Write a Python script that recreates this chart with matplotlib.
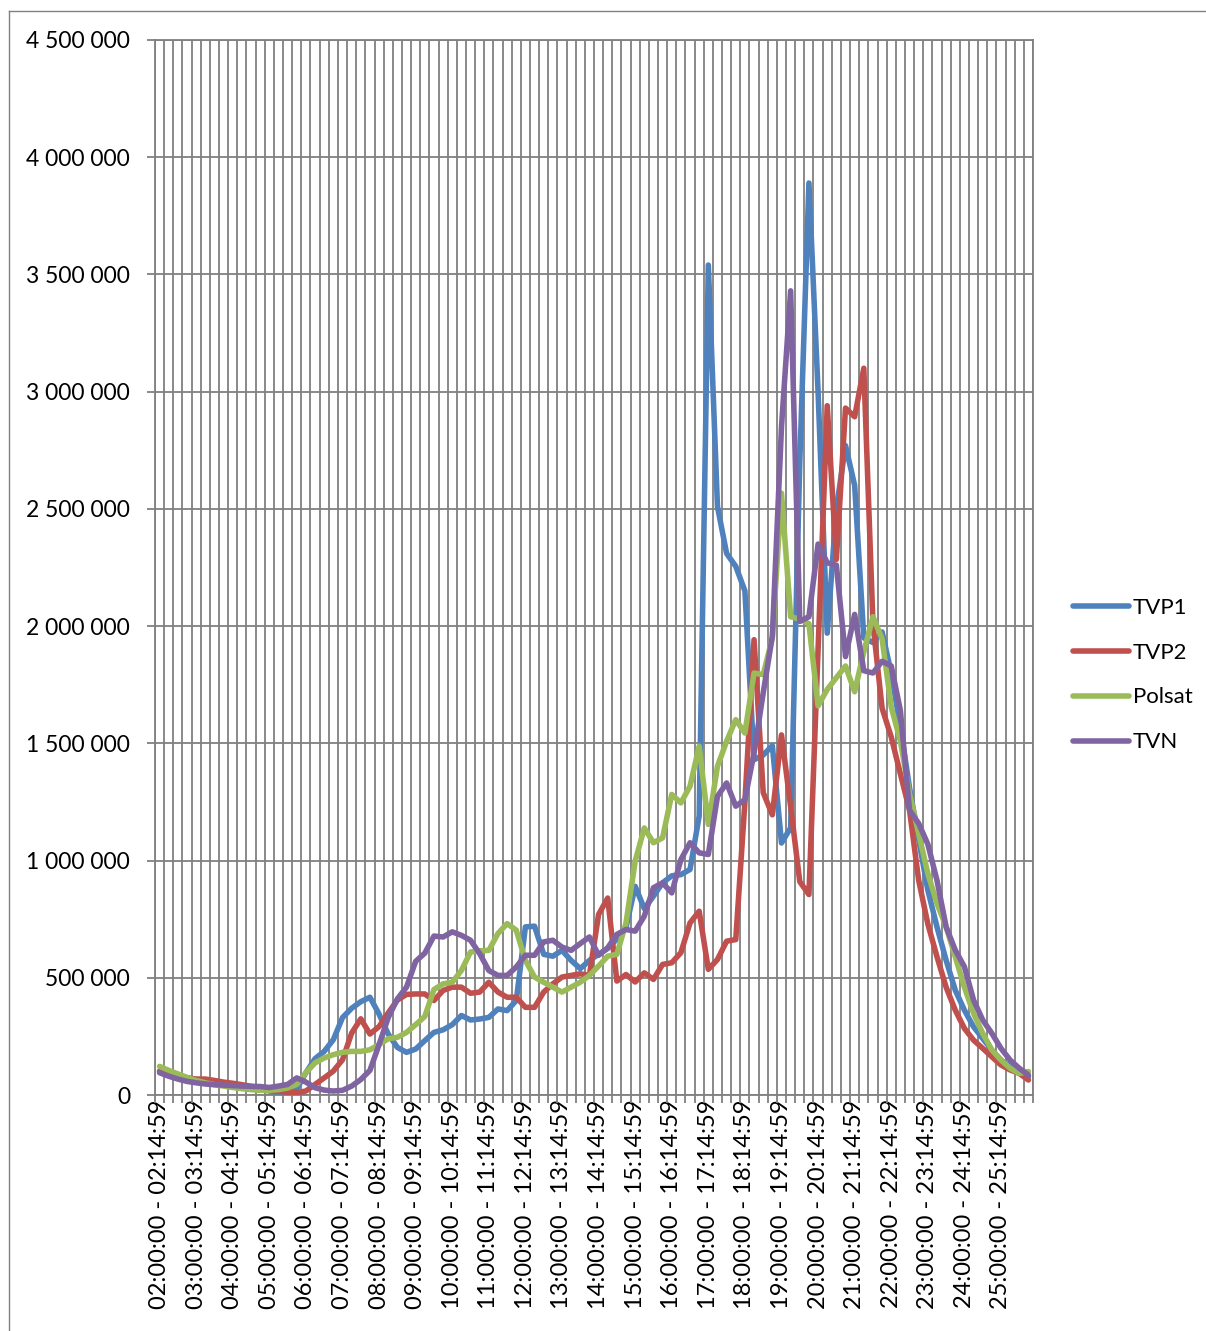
import matplotlib
matplotlib.use("Agg")
import matplotlib.pyplot as plt
from matplotlib.lines import Line2D
import matplotlib.transforms as mtransforms
import numpy as np

plt.rcParams['font.family'] = ['Lato', 'DejaVu Sans']

# 96 quarter-hour slots, 02:00 .. 25:45 (values in thousands of viewers)
tick_labels = [
    "02:00:00 - 02:14:59", "03:00:00 - 03:14:59", "04:00:00 - 04:14:59",
    "05:00:00 - 05:14:59", "06:00:00 - 06:14:59", "07:00:00 - 07:14:59",
    "08:00:00 - 08:14:59", "09:00:00 - 09:14:59", "10:00:00 - 10:14:59",
    "11:00:00 - 11:14:59", "12:00:00 - 12:14:59", "13:00:00 - 13:14:59",
    "14:00:00 - 14:14:59", "15:00:00 - 15:14:59", "16:00:00 - 16:14:59",
    "17:00:00 - 17:14:59", "18:00:00 - 18:14:59", "19:00:00 - 19:14:59",
    "20:00:00 - 20:14:59", "21:00:00 - 21:14:59", "22:00:00 - 22:14:59",
    "23:00:00 - 23:14:59", "24:00:00 - 24:14:59", "25:00:00 - 25:14:59",
]

tvp1 = [102, 90, 80, 73, 66, 59, 52, 48, 44, 38, 31, 24, 17, 13, 13, 25,
        95, 155, 186, 236, 330, 370, 398, 417, 345, 260, 203, 182, 196, 232, 267, 278,
        300, 339, 320, 324, 331, 367, 360, 403, 717, 720, 600, 592, 617, 574, 539, 574,
        600, 625, 665, 715, 890, 795, 848, 905, 935, 940, 962, 1190, 3540, 2510, 2310, 2255,
        2150, 1430, 1450, 1490, 1075, 1140, 2700, 3890, 3000, 1970, 2500, 2770, 2600, 1950, 1930, 1975,
        1800, 1570, 1310, 1090, 874, 717, 575, 447, 362, 291, 241, 192, 149, 121, 99, 78]

tvp2 = [100, 90, 80, 72, 68, 68, 62, 55, 50, 44, 37, 30, 22, 16, 12, 10,
        17, 45, 73, 102, 150, 264, 325, 260, 292, 350, 405, 429, 431, 431, 403, 446,
        460, 460, 434, 439, 481, 439, 417, 417, 374, 374, 439, 474, 503, 510, 517, 510,
        770, 840, 486, 514, 482, 521, 493, 557, 564, 607, 734, 784, 536, 578, 656, 663,
        1250, 1942, 1290, 1195, 1536, 1230, 910, 855, 1900, 2940, 2285, 2930, 2893, 3100, 2010, 1650,
        1527, 1370, 1215, 916, 730, 590, 460, 362, 284, 234, 199, 163, 128, 107, 92, 64]

polsat = [122, 105, 90, 75, 62, 52, 44, 38, 32, 27, 23, 20, 20, 23, 30, 45,
          95, 137, 158, 172, 182, 186, 186, 193, 215, 240, 246, 267, 300, 335, 450, 474,
          481, 531, 610, 615, 617, 689, 731, 703, 574, 503, 481, 460, 439, 460, 481, 510,
          550, 592, 600, 734, 997, 1139, 1076, 1097, 1282, 1246, 1317, 1488, 1154, 1402, 1509, 1601,
          1544, 1800, 1793, 1950, 2567, 2040, 2030, 2010, 1660, 1730, 1780, 1830, 1720, 1890, 2040, 1946,
          1655, 1510, 1285, 1115, 945, 817, 717, 590, 460, 348, 263, 192, 149, 114, 92, 100]

tvn = [95, 80, 68, 58, 52, 47, 44, 42, 40, 38, 37, 36, 32, 38, 45, 73,
       55, 31, 21, 17, 20, 38, 66, 105, 215, 330, 410, 460, 570, 605, 678, 674,
       696, 681, 660, 603, 531, 510, 510, 546, 596, 596, 653, 660, 631, 617, 646, 674,
       596, 628, 685, 706, 699, 763, 884, 905, 862, 1004, 1076, 1033, 1026, 1274, 1331, 1232,
       1260, 1459, 1715, 1957, 2850, 3430, 2020, 2040, 2350, 2270, 2260, 1870, 2050, 1810, 1800, 1850,
       1830, 1640, 1215, 1158, 1070, 916, 717, 618, 547, 405, 320, 263, 199, 149, 114, 85]

series = [("TVP1", tvp1, "#4F81BD"), ("TVP2", tvp2, "#C0504D"),
          ("Polsat", polsat, "#9BBB59"), ("TVN", tvn, "#8064A2")]

W, H = 1206, 1331
fig = plt.figure(figsize=(W / 100, H / 100), dpi=100)
ax = fig.add_axes([155 / W, 1 - 1095 / H, 878 / W, 1055 / H])

grid_c = "#808080"
x = np.arange(len(tvp1))
for name, vals, col in series:
    ax.plot(x, np.array(vals) * 1000, color=col, lw=4.0, label=name,
            solid_joinstyle="round", solid_capstyle="round", zorder=3)

ax.set_xlim(-0.5, len(x) - 0.5)
ax.set_ylim(0, 4500000)

yt = np.arange(0, 4500001, 500000)
ax.set_yticks(yt)
ax.set_yticklabels([f"{int(v):,}".replace(",", " ") for v in yt], fontsize=16.5)

ax.set_xticks(np.arange(0, len(x), 4))
ax.set_xticklabels(tick_labels, rotation=90, fontsize=17, va="top", ha="center")
ax.set_xticks(np.arange(-0.5, len(x), 1), minor=True)
shift = mtransforms.ScaledTranslation(6 / 100, 0, fig.dpi_scale_trans)
for lab in ax.get_xticklabels():
    lab.set_transform(lab.get_transform() + shift)

ax.tick_params(axis="x", which="major", length=0, pad=3)
ax.tick_params(axis="x", which="minor", length=6, color=grid_c, width=1.3)
ax.tick_params(axis="y", length=6, color=grid_c, width=1.3, pad=12)
ax.grid(True, axis="x", which="minor", color=grid_c, lw=1.3)
ax.grid(True, axis="y", which="major", color=grid_c, lw=1.3)
ax.set_axisbelow(True)
for s in ax.spines.values():
    s.set_color(grid_c)
    s.set_linewidth(1.3)

ax.legend(loc="center left", bbox_to_anchor=(1073 / W, 1 - 675 / H),
          bbox_transform=fig.transFigure, frameon=False, fontsize=16,
          handlelength=2.5, handletextpad=0.2, labelspacing=1.12, borderpad=0,
          borderaxespad=0)

# chart area border (top and left edges visible)
fig.add_artist(Line2D([9 / W, 1], [1 - 11 / H, 1 - 11 / H], color=grid_c, lw=1.0,
                      transform=fig.transFigure))
fig.add_artist(Line2D([9 / W, 9 / W], [0, 1 - 11 / H], color=grid_c, lw=1.0,
                      transform=fig.transFigure))

fig.savefig("out.png", dpi=100)
